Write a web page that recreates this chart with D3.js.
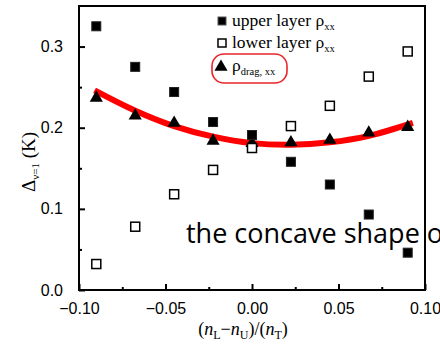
<!DOCTYPE html>
<html><head><meta charset="utf-8">
<script src="https://cdn.jsdelivr.net/npm/d3@7"></script>
<style>body{margin:0;background:#fff;overflow:hidden}svg{display:block}</style>
</head><body>
<script>
const xVals = [-0.09, -0.0675, -0.045, -0.0225, 0, 0.0225, 0.045, 0.0675, 0.09];
const upperRho = [0.325, 0.275, 0.244, 0.207, 0.191, 0.158, 0.130, 0.093, 0.046];
const lowerRho = [0.032, 0.078, 0.118, 0.148, 0.175, 0.202, 0.227, 0.263, 0.294];
const dragRho  = [0.238, 0.216, 0.207, 0.185, 0.182, 0.183, 0.186, 0.195, 0.202];
const fitX = [-0.091, -0.0675, -0.045, -0.0225, 0, 0.0225, 0.045, 0.0675, 0.093];
const fitY = [0.246, 0.221, 0.202, 0.189, 0.181, 0.179, 0.182, 0.190, 0.206];
const xTicks = [-0.10, -0.05, 0.00, 0.05, 0.10];
const xMinor = [-0.075, -0.025, 0.025, 0.075];
const yTicks = [0.0, 0.1, 0.2, 0.3];
const yMinor = [0.05, 0.15, 0.25];

const W = 440, H = 344;
const L = 79, R = 425, T = 6, B = 290;
const svg = d3.select("body").append("svg").attr("width", W).attr("height", H);
const x = d3.scaleLinear().domain([-0.10, 0.10]).range([L, R]);
const y = d3.scaleLinear().domain([0, 0.35]).range([B, T]);

// frame
svg.append("rect").attr("x", L).attr("y", T).attr("width", R - L).attr("height", B - T)
  .attr("fill", "none").attr("stroke", "#000").attr("stroke-width", 2);

// axes with inward ticks
const sans = "'Liberation Sans', Arial, sans-serif";
const serif = "'Liberation Serif', 'Times New Roman', serif";
const xAxis = svg.append("g").attr("transform", `translate(0,${B})`)
  .call(d3.axisBottom(x).tickValues(xTicks).tickSizeInner(-6).tickSizeOuter(0).tickPadding(13)
    .tickFormat(d => d3.format(".2f")(d).replace("-", "\u2212")));
xAxis.select(".domain").remove();
xAxis.selectAll("line").attr("stroke-width", 2);
xAxis.selectAll("text").attr("font-family", sans).attr("font-size", 16).attr("fill", "#000");
const xMin = svg.append("g").attr("transform", `translate(0,${B})`)
  .call(d3.axisBottom(x).tickValues(xMinor).tickSizeInner(-3).tickSizeOuter(0).tickFormat(""));
xMin.select(".domain").remove();
xMin.selectAll("line").attr("stroke-width", 2);

const yAxis = svg.append("g").attr("transform", `translate(${L},0)`)
  .call(d3.axisLeft(y).tickValues(yTicks).tickSizeInner(-6).tickSizeOuter(0).tickPadding(16)
    .tickFormat(d3.format(".1f")));
yAxis.select(".domain").remove();
yAxis.selectAll("line").attr("stroke-width", 2);
yAxis.selectAll("text").attr("font-family", sans).attr("font-size", 16).attr("fill", "#000");
const yMin = svg.append("g").attr("transform", `translate(${L},0)`)
  .call(d3.axisLeft(y).tickValues(yMinor).tickSizeInner(-3).tickSizeOuter(0).tickFormat(""));
yMin.select(".domain").remove();
yMin.selectAll("line").attr("stroke-width", 2);

// fit curve
const fitPts = fitX.map((d, i) => [d, fitY[i]]);
svg.append("path").datum(fitPts)
  .attr("d", d3.line().x(d => x(d[0])).y(d => y(d[1])).curve(d3.curveCatmullRom))
  .attr("fill", "none").attr("stroke", "#f00").attr("stroke-width", 6);

// drag triangles
const tri = d3.symbol().type(d3.symbolTriangle).size(75);
svg.append("g").selectAll("path").data(xVals).join("path")
  .attr("d", tri).attr("transform", (d, i) => `translate(${x(d)},${y(dragRho[i]) + 1})`)
  .attr("fill", "#000");

// lower open squares
svg.append("g").selectAll("rect").data(xVals).join("rect")
  .attr("x", d => x(d) - 4.5).attr("y", (d, i) => y(lowerRho[i]) - 4.5)
  .attr("width", 9).attr("height", 9)
  .attr("fill", "#fff").attr("stroke", "#000").attr("stroke-width", 1.5);

// upper filled squares
svg.append("g").selectAll("rect").data(xVals).join("rect")
  .attr("x", d => x(d) - 4.5).attr("y", (d, i) => y(upperRho[i]) - 4.5)
  .attr("width", 9).attr("height", 9)
  .attr("fill", "#000").attr("stroke", "#222").attr("stroke-width", 1);

// legend
const lg = svg.append("g");
lg.append("rect").attr("x", 218).attr("y", 17).attr("width", 8).attr("height", 8)
  .attr("fill", "#000").attr("stroke", "#555").attr("stroke-width", 1);
lg.append("rect").attr("x", 218).attr("y", 39).attr("width", 8).attr("height", 8)
  .attr("fill", "#fff").attr("stroke", "#000").attr("stroke-width", 1.5);
lg.append("path").attr("d", tri).attr("transform", "translate(221,67)").attr("fill", "#000");
function legText(yy, main, sub) {
  const t = lg.append("text").attr("x", 232).attr("y", yy)
    .attr("font-family", serif).attr("font-size", 17.5).attr("fill", "#000");
  t.append("tspan").text(main);
  t.append("tspan").attr("font-size", 10.5).attr("dy", 4).text(sub);
}
legText(26, "upper layer \u03C1", "xx");
legText(48, "lower layer \u03C1", "xx");
legText(71, "\u03C1", "drag, xx");
lg.append("rect").attr("x", 212).attr("y", 54).attr("width", 75).attr("height", 29).attr("rx", 12)
  .attr("fill", "none").attr("stroke", "#e8262a").attr("stroke-width", 1.6);

// axis titles
const xt = svg.append("text").attr("x", 243).attr("y", 335).attr("text-anchor", "middle")
  .attr("font-family", serif).attr("font-size", 18).attr("fill", "#000");
xt.append("tspan").text("(");
xt.append("tspan").attr("font-style", "italic").text("n");
xt.append("tspan").attr("font-size", 12).attr("dy", 4).text("L");
xt.append("tspan").attr("dy", -4).text("\u2212");
xt.append("tspan").attr("font-style", "italic").text("n");
xt.append("tspan").attr("font-size", 12).attr("dy", 4).text("U");
xt.append("tspan").attr("dy", -4).text(")/(");
xt.append("tspan").attr("font-style", "italic").text("n");
xt.append("tspan").attr("font-size", 12).attr("dy", 4).text("T");
xt.append("tspan").attr("dy", -4).text(")");

const yt = svg.append("text").attr("transform", "translate(35,162) rotate(-90)")
  .attr("text-anchor", "middle")
  .attr("font-family", serif).attr("font-size", 19).attr("fill", "#000");
yt.append("tspan").text("\u0394");
yt.append("tspan").attr("font-size", 11).attr("dy", 4).text("\u03BD=1");
yt.append("tspan").attr("dy", -4).text(" (K)");

// overlay caption (cut off at the right edge, as in the reference)
svg.append("text").attr("x", 186).attr("y", 243)
  .attr("font-family", "'Open Sans', 'Noto Sans', sans-serif").attr("font-size", 27).attr("fill", "#000")
  .text("the concave shape of");
</script>
</body></html>
